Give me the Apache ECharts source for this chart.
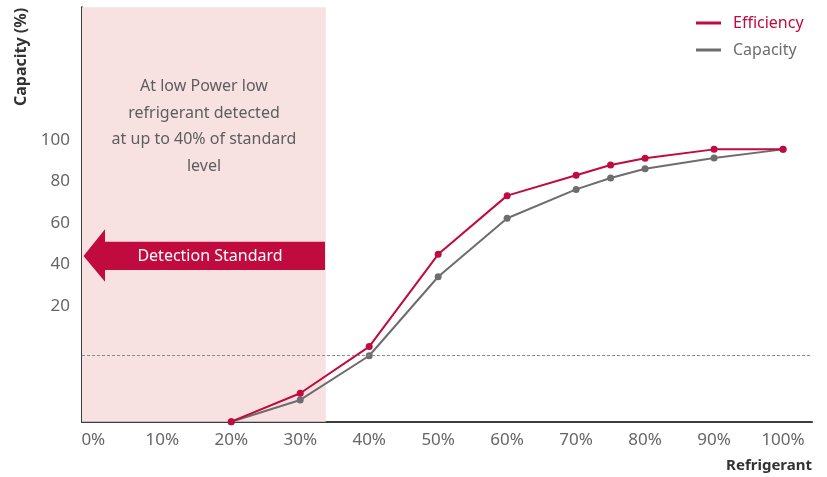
<!DOCTYPE html>
<html><head><meta charset="utf-8">
<script src="https://cdn.jsdelivr.net/npm/echarts@6/dist/echarts.min.js"></script>
<style>html,body{margin:0;padding:0;background:#fff}#c{width:827px;height:477px}</style>
</head><body><div id="c"></div>
<script>
const refrigerant = [20, 30, 40, 50, 60, 70, 75, 80, 90, 100];
const efficiency = [-35.8, -22.1, 0.4, 44.9, 73.2, 83.0, 88.0, 91.2, 95.5, 95.5];
const capacity = [-35.8, -25.3, -4.0, 34.1, 62.3, 76.2, 81.7, 86.2, 91.3, 95.5];
const xTickLabels = [0, 10, 20, 30, 40, 50, 60, 70, 80, 90, 100];
const yTickLabels = [20, 40, 60, 80, 100];
const detectionZone = [-1.64, 33.7];
const thresholdLevel = -3.8;
const noteLines = ['At low Power low', 'refrigerant detected', 'at up to 40% of standard', 'level'];

const RED = '#c10a3e', GRAY = '#6d6d6f', FONT = 'Noto Sans';
const isTick = (v, list) => Math.abs(v - Math.round(v)) < 1e-6 && list.includes(Math.round(v));

const chart = echarts.init(document.getElementById('c'), null, {renderer: 'canvas'});
chart.setOption({
  animation: false,
  grid: {left: 82, right: 15, top: 7.3, bottom: 55.3, containLabel: false},
  legend: {
    orient: 'vertical', left: 696, top: 13, padding: 0, itemWidth: 25, itemHeight: 3, itemGap: 7,
    icon: 'rect', selectedMode: false,
    textStyle: {fontFamily: FONT, fontSize: 16, lineHeight: 20, padding: [0, 0, 0, 7]},
    data: [
      {name: 'Efficiency', textStyle: {color: RED}},
      {name: 'Capacity', textStyle: {color: GRAY}}
    ]
  },
  xAxis: {
    type: 'value', min: -1.64, max: 104.2, splitNumber: 10,
    axisLine: {show: true, onZero: false, lineStyle: {color: '#3d3d3d', width: 2}},
    axisTick: {show: false}, splitLine: {show: false},
    axisLabel: {color: '#666', fontFamily: FONT, fontSize: 17, margin: 10,
      formatter: v => isTick(v, xTickLabels) ? Math.round(v) + '%' : ''}
  },
  yAxis: {
    type: 'value', min: -35.8, max: 164, splitNumber: 10,
    axisLine: {show: true, onZero: false, lineStyle: {color: '#3d3d3d', width: 2}},
    axisTick: {show: false}, splitLine: {show: false},
    axisLabel: {color: '#666', fontFamily: FONT, fontSize: 17, margin: 12,
      formatter: v => isTick(v, yTickLabels) ? String(Math.round(v)) : ''}
  },
  series: [
    {
      name: 'Capacity', type: 'line', z: 3,
      data: refrigerant.map((x, i) => [x, capacity[i]]),
      symbol: 'circle', symbolSize: 7, itemStyle: {color: GRAY},
      lineStyle: {color: GRAY, width: 2},
      markArea: {silent: true, itemStyle: {color: '#f7e1e1'}, z: 1,
        data: [[{xAxis: detectionZone[0]}, {xAxis: detectionZone[1]}]]},
      markLine: {silent: true, symbol: ['none', 'none'], label: {show: false},
        lineStyle: {color: '#8c8c8c', type: [3, 2], width: 1},
        data: [{yAxis: thresholdLevel}]}
    },
    {
      name: 'Efficiency', type: 'line', z: 4,
      data: refrigerant.map((x, i) => [x, efficiency[i]]),
      symbol: 'circle', symbolSize: 7, itemStyle: {color: RED},
      lineStyle: {color: RED, width: 2}
    }
  ],
  graphic: [
    {type: 'text', x: 21.7, y: 57, rotation: Math.PI / 2,
      style: {text: 'Capacity (%)', fontFamily: FONT, fontSize: 16, fontWeight: 'bold', fill: '#333',
        align: 'center', verticalAlign: 'middle'}},
    {type: 'text', x: 812, y: 466,
      style: {text: 'Refrigerant', fontFamily: FONT, fontSize: 15, fontWeight: 'bold', fill: '#333',
        align: 'right', verticalAlign: 'middle'}},
    {type: 'text', x: 204, y: 126.5, z: 10,
      style: {text: noteLines.join('\n'), fontFamily: FONT, fontSize: 16, lineHeight: 26.5, fill: '#5e5e5e',
        align: 'center', verticalAlign: 'middle'}},
    {type: 'polygon', z: 10,
      shape: {points: [[83.5, 256], [105, 229.3], [105, 241.7], [325, 241.7], [325, 270], [105, 270], [105, 281.7]]},
      style: {fill: RED}},
    {type: 'text', x: 210, y: 256, z: 11,
      style: {text: 'Detection Standard', fontFamily: FONT, fontSize: 16, fill: '#fff',
        align: 'center', verticalAlign: 'middle'}}
  ]
});
</script></body></html>
